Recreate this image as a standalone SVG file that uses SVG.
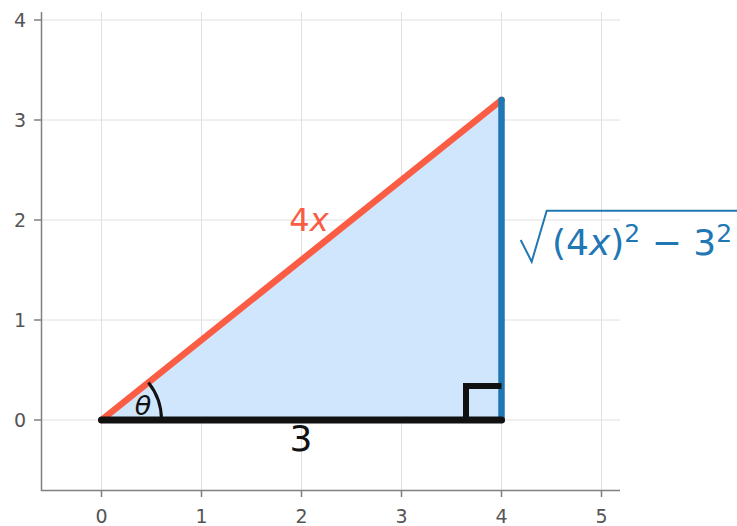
<svg xmlns="http://www.w3.org/2000/svg" width="737" height="526" viewBox="0 0 737 526">
<style>
.grid{stroke:#e0e0e0;stroke-width:1;fill:none}
.spine{stroke:#808080;stroke-width:1.5;fill:none}
.tick{fill:#555;font-family:"DejaVu Sans",sans-serif;font-size:19px}
.lbl{font-family:"DejaVu Sans",sans-serif}
</style>
<rect width="737" height="526" fill="#fff"/>
<g id="grid">
<path class="grid" d="M101.5 12V490M201.5 12V490M301.5 12V490M401.5 12V490M501.5 12V490M601.5 12V490M42 20H620M42 120H620M42 220H620M42 320H620M42 420H620"/>
</g>
<g id="axes">
<path class="spine" d="M41.5 12V490.5H620"/>
<path class="spine" d="M34 20H41.5M34 120H41.5M34 220H41.5M34 320H41.5M34 420H41.5M101.5 490.5V497M201.5 490.5V497M301.5 490.5V497M401.5 490.5V497M501.5 490.5V497M601.5 490.5V497"/>
<g class="tick" text-anchor="end">
<text x="26" y="27">4</text><text x="26" y="127">3</text><text x="26" y="227">2</text><text x="26" y="327">1</text><text x="26" y="427">0</text>
</g>
<g class="tick" text-anchor="middle">
<text x="101.5" y="523">0</text><text x="201.5" y="523">1</text><text x="301.5" y="523">2</text><text x="401.5" y="523">3</text><text x="501.5" y="523">4</text><text x="601.5" y="523">5</text>
</g>
</g>
<g id="triangle">
<polygon points="101.5,420 501.5,420 501.5,100" fill="#cfe6fc"/>
</g>
<g id="connectors" stroke-linecap="round" fill="none">
<line id="hyp" x1="101.5" y1="420" x2="501.5" y2="100" stroke="#fa5d44" stroke-width="6.5"/>
<line id="opp" x1="501.5" y1="420" x2="501.5" y2="100" stroke="#1f77b4" stroke-width="6.5"/>
<line id="adj" x1="101.5" y1="420" x2="501.5" y2="420" stroke="#111" stroke-width="7"/>
<path id="right-angle" d="M466 420V386H501.5" stroke="#111" stroke-width="6" stroke-linecap="butt"/>
<path id="angle-arc" d="M161.5 420A60 60 0 0 0 148.4 382.5" stroke="#111" stroke-width="3" stroke-linecap="butt"/>
</g>
<g id="labels" class="lbl">
<text x="143" y="415" font-size="27" font-style="italic" text-anchor="middle" fill="#111">θ</text>
<text x="309" y="231" font-size="32" text-anchor="middle" fill="#fa5d44">4<tspan font-style="italic">x</tspan></text>
<text x="301" y="451" font-size="36" text-anchor="middle" fill="#111">3</text>
<g fill="#1f77b4">
<path d="M520.7 240L531.7 261.7L546.7 210.7H737" stroke="#1f77b4" stroke-width="2" fill="none"/>
<text x="552" y="255" font-size="36">(4<tspan font-style="italic">x</tspan>)<tspan font-size="25" dy="-13">2</tspan><tspan dy="13"> − 3</tspan><tspan font-size="25" dy="-13">2</tspan></text>
</g>
</g>
</svg>
